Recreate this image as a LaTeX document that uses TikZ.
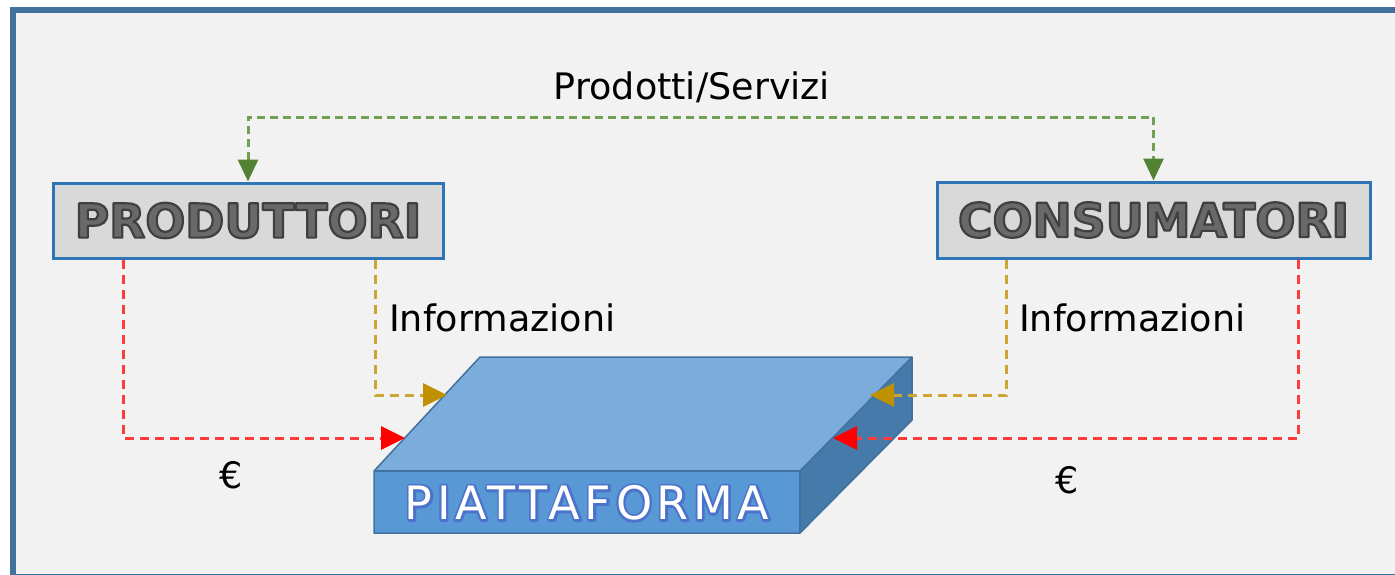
\documentclass[tikz,border=0pt]{standalone}
\usepackage{fontspec}
\setmainfont{DejaVu Sans}
\usetikzlibrary{arrows.meta}

\definecolor{framebd}{RGB}{65,113,156}
\definecolor{framebg}{RGB}{242,242,242}
\definecolor{boxbd}{RGB}{46,117,182}
\definecolor{boxbg}{RGB}{217,217,217}
\definecolor{boxtxt}{RGB}{105,105,105}
\definecolor{grline}{RGB}{112,160,80}
\definecolor{grtip}{RGB}{84,130,53}
\definecolor{ylline}{RGB}{205,165,50}
\definecolor{yltip}{RGB}{191,144,0}
\definecolor{rdline}{RGB}{255,60,60}
\definecolor{rdtip}{RGB}{255,0,0}
\definecolor{topface}{RGB}{122,172,220}
\definecolor{frontface}{RGB}{88,152,212}
\definecolor{sideface}{RGB}{70,122,170}
\definecolor{platbd}{RGB}{65,113,156}

% text drawn filled and outlined at once (PDF text render mode 2)
% #1: outline colour as "r g b", #2: outline width, #3: text
\newcommand{\rimtext}[3]{%
  \special{pdf:literal direct #1 RG #2 w 1 j 2 Tr}#3\special{pdf:literal direct 0 Tr}}
% a wide outline only (render mode 1) laid under the plain text
\newcommand{\glowtext}[3]{%
  \rlap{\special{pdf:literal direct #1 RG #2 w 1 j 1 Tr}#3\special{pdf:literal direct 0 Tr}}#3}

\tikzset{
  actor/.style={draw=boxbd, line width=3pt, fill=boxbg, inner sep=0pt,
    text=boxtxt, font=\fontsize{47}{50}\selectfont\bfseries},
  lbl/.style={inner sep=0pt, font=\fontsize{36.5}{40}\selectfont, text=black},
  flow/.style={line width=3pt, dash pattern=on 9pt off 6pt},
  gflow/.style={flow, draw=grline, dash pattern=on 8pt off 5pt,
    {Triangle[length=22pt,width=20pt,color=grtip]}-{Triangle[length=22pt,width=20pt,color=grtip]}},
  yflow/.style={flow, draw=ylline, -{Triangle[length=24pt,width=23pt,color=yltip]}},
  rflow/.style={flow, draw=rdline, -{Triangle[length=24pt,width=23pt,color=rdtip]}},
  face/.style={draw=platbd, line width=1.5pt, line join=round},
  plattxt/.style={inner sep=0pt, text=white,
    font=\fontsize{46}{50}\selectfont\addfontfeature{LetterSpace=10}},
}

\begin{document}
\begin{tikzpicture}[x=1pt,y=-1pt]
\useasboundingbox (0,0) rectangle (1395,574);
\clip (0,0) rectangle (1395,574);

% outer panel
\draw[line width=6pt, draw=framebd, fill=framebg] (13,10) rectangle (1430,577);

% the two parties
\node[actor, minimum width=390pt, minimum height=75pt] (prod) at (248,220.5)
  {\rimtext{0.25 0.25 0.25}{2.2}{PRODUTTORI}};
\node[actor, minimum width=433pt, minimum height=76pt] (cons) at (1153.5,220)
  {\rimtext{0.25 0.25 0.25}{2.2}{CONSUMATORI}};

% platform slab
\coordinate (A) at (374,471);
\coordinate (B) at (800,471);
\coordinate (C) at (800,533);
\coordinate (D) at (374,533);
\coordinate (E) at (480,357);
\coordinate (F) at (912,357);
\coordinate (G) at (912,420);
\fill[topface] (A) -- (E) -- (F) -- (B) -- cycle;
\fill[frontface] (A) -- (B) -- (C) -- (D) -- cycle;
\fill[sideface] (B) -- (F) -- (G) -- (C) -- cycle;
\draw[face] (A) -- (E) -- (F) -- (G) -- (C) -- (D) -- cycle;
\draw[face] (A) -- (B) -- (C);
\draw[face] (B) -- (F);

% platform label, white with a blue rim
\node[plattxt] (plat) at (587,503) {\glowtext{0.30 0.45 0.80}{4.5}{PIATTAFORMA}};

% arrow targets on the slab
\coordinate (yL) at (447,395);
\coordinate (rL) at (405,438);
\coordinate (yR) at (870,395);
\coordinate (rR) at (833,438);

% flows
\draw[gflow] (prod.north) -- (prod.north |- 0,117) -| (cons.north);
\draw[rflow] ([xshift=72pt]prod.south west) |- (rL);
\draw[yflow] ([xshift=-69pt]prod.south east) |- (yL);
\draw[yflow] ([xshift=71pt]cons.south west) |- (yR);
\draw[rflow] ([xshift=-73pt]cons.south east) |- (rR);

% labels
\node[lbl, anchor=base] (ps) at (692,99) {Prodotti/Servizi};
\node[lbl, anchor=base west] (infL) at (389,331) {Informazioni};
\node[lbl, anchor=base west] (infR) at (1019,331) {Informazioni};
\node[lbl, anchor=base] (eurL) at (231,488) {€};
\node[lbl, anchor=base] (eurR) at (1067,493) {€};
\end{tikzpicture}
\end{document}
